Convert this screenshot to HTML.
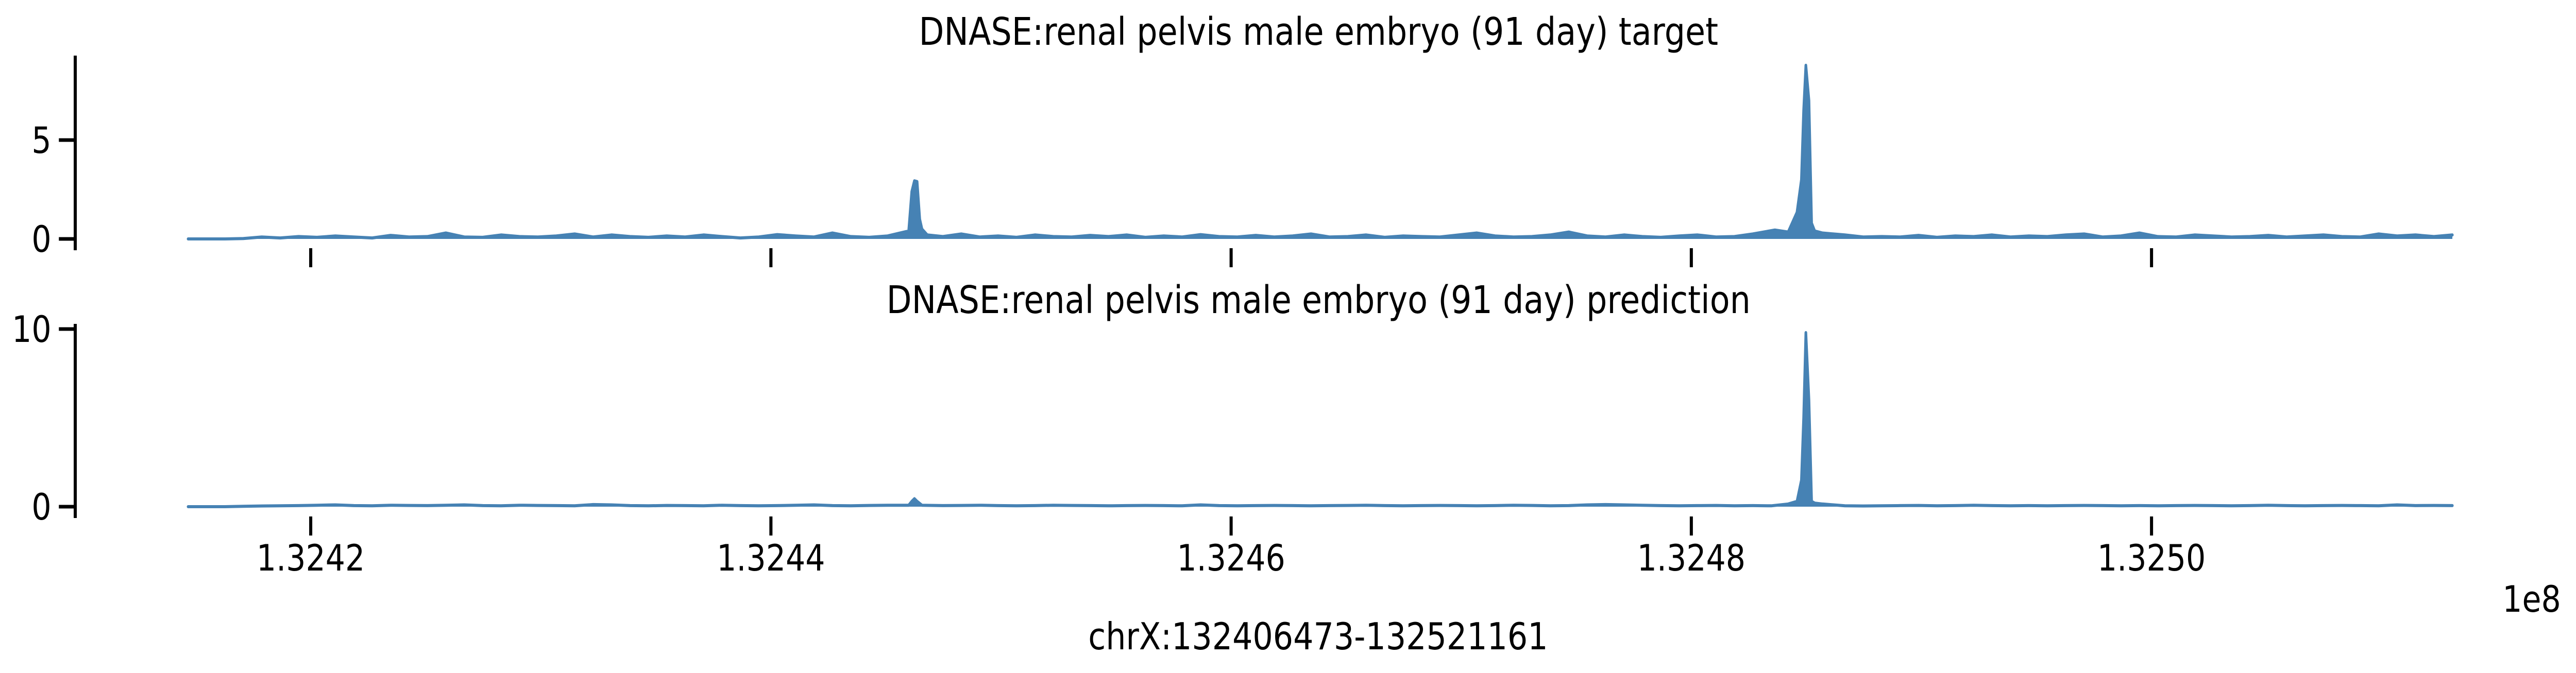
<!DOCTYPE html>
<html><head><meta charset="utf-8"><style>
html,body{margin:0;padding:0;background:#fff;width:100%;height:100%;overflow:hidden;}
svg{display:block;width:100vw;height:100vh;}
text{font-family:"DejaVu Sans","Liberation Sans",sans-serif;fill:#000;}
</style></head><body>
<svg id="fig" viewBox="0 0 5820 1307" preserveAspectRatio="none" xmlns="http://www.w3.org/2000/svg">
<g id="top"></g>
<g id="bot"></g>
<text x="2979" y="87" font-size="74" text-anchor="middle">DNASE:renal pelvis male embryo (91 day) target</text>
<text x="2979" y="608" font-size="74" text-anchor="middle">DNASE:renal pelvis male embryo (91 day) prediction</text>
<text x="2978" y="1261" font-size="72" text-anchor="middle">chrX:132406473-132521161</text>
<text x="5786" y="1188" font-size="70" text-anchor="end">1e8</text>
</svg>
<script>
// ---- data ----
const binStart = 132414672;
const binSize = 800;
const targetBaseline = [0,0,0,0.02,0.1,0.05,0.12,0.08,0.15,0.1,0.05,0.18,0.1,0.12,0.3,0.1,0.08,0.2,0.12,0.1,0.15,0.25,0.1,0.2,0.12,0.08,0.15,0.1,0.2,0.12,0.05,0.1,0.22,0.15,0.1,0.3,0.12,0.08,0.15,0.2,0.1,0.12,0.25,0.1,0.15,0.08,0.2,0.12,0.1,0.18,0.12,0.2,0.08,0.15,0.1,0.22,0.12,0.1,0.18,0.1,0.15,0.25,0.1,0.12,0.2,0.08,0.15,0.12,0.1,0.2,0.3,0.15,0.1,0.12,0.2,0.35,0.15,0.1,0.2,0.12,0.08,0.15,0.2,0.1,0.12,0.25,0.3,0.12,0.1,0.15,0.2,0.1,0.12,0.1,0.18,0.08,0.15,0.12,0.2,0.1,0.15,0.12,0.2,0.25,0.1,0.15,0.3,0.12,0.1,0.2,0.15,0.1,0.12,0.18,0.1,0.15,0.2,0.12,0.1,0.25,0.15,0.2,0.12,0.2];
const predBaseline = [0,0,0,0.02,0.04,0.05,0.06,0.08,0.1,0.06,0.05,0.08,0.07,0.06,0.08,0.1,0.06,0.05,0.08,0.07,0.06,0.05,0.12,0.1,0.06,0.05,0.07,0.06,0.05,0.08,0.06,0.05,0.06,0.08,0.1,0.06,0.05,0.07,0.08,0.06,0.05,0.06,0.07,0.08,0.06,0.05,0.06,0.08,0.07,0.06,0.05,0.06,0.07,0.06,0.05,0.1,0.06,0.05,0.06,0.07,0.06,0.05,0.06,0.07,0.08,0.06,0.05,0.06,0.07,0.06,0.05,0.06,0.08,0.07,0.05,0.06,0.1,0.12,0.1,0.08,0.06,0.05,0.06,0.07,0.05,0.06,0.05,0.04,0.05,0.06,0.05,0.04,0.05,0.06,0.07,0.05,0.06,0.08,0.06,0.05,0.06,0.05,0.06,0.07,0.06,0.05,0.06,0.05,0.06,0.07,0.06,0.05,0.06,0.08,0.06,0.05,0.06,0.07,0.06,0.05,0.1,0.06,0.07,0.06];
const targetPeakPos = [132445987,132446121,132446237,132446352,132446468,132446564,132446795,132483630,132484207,132484592,132484785,132484881,132484977,132485112,132485227,132485362,132485700];
const targetPeakVal = [0.4,2.4,2.94,2.9,1.0,0.5,0.2,0.45,0.35,1.35,3.0,6.5,8.78,7.0,0.8,0.4,0.3];
const predPeakPos = [132445987,132446121,132446237,132446352,132446564,132484207,132484592,132484785,132484881,132484977,132485112,132485227,132485362,132485700];
const predPeakVal = [0.08,0.3,0.45,0.3,0.08,0.15,0.3,1.5,5.0,9.8,6.0,0.3,0.2,0.15];
const xTicks = [132420000,132440000,132460000,132480000,132500000];
const xTickLabels = ["1.3242","1.3244","1.3246","1.3248","1.3250"];
const topYTicks = [0,5];
const botYTicks = [0,10];

// ---- scales ----
const X0 = 702, PXBP = 1039.75/20000;
function xs(p){ return X0 + (p-132420000)*PXBP; }
const panels = {
  top:{g:'top', y0:464, ppu:38.4, spineTop:108, spineBot:486, tickTop:482, tickBot:519},
  bot:{g:'bot', y0:984, ppu:34.5, spineTop:629, spineBot:1006, tickTop:1003, tickBot:1040}
};
const NS='http://www.w3.org/2000/svg';
function mk(tag, attrs, parent){ const e=document.createElementNS(NS,tag); for(const k in attrs) e.setAttribute(k,attrs[k]); parent.appendChild(e); return e; }

function mergeGroups(base, pPos, pVal){
  const pts=[];
  base.forEach((v,i)=>{ const p=binStart+i*binSize;
    const near = pPos.some(q=>Math.abs(q-p)<450);
    if(!near) pts.push([p,v]); });
  pPos.forEach((p,i)=>pts.push([p,pVal[i]]));
  pts.sort((a,b)=>a[0]-b[0]);
  return pts;
}

function drawPanel(P, base, pPos, pVal, yTicks, showLabels, name){
  const g=document.getElementById(P.g);
  const ys=v=>P.y0 - v*P.ppu;
  const pts=mergeGroups(base,pPos,pVal);
  let d='M'+xs(pts[0][0]).toFixed(1)+','+ys(0);
  pts.forEach(([p,v])=>{ d+=' L'+xs(p).toFixed(1)+','+ys(v).toFixed(1); });
  d+=' L'+xs(pts[pts.length-1][0]).toFixed(1)+','+ys(0)+' Z';
  const area=mk('path',{d:d,fill:'#4682b4',stroke:'none'},g);
  
  
  let l='';
  pts.forEach(([p,v],i)=>{ l+=(i?' L':'M')+xs(p).toFixed(1)+','+ys(v).toFixed(1); });
  const line=mk('path',{d:l,fill:'none',stroke:'#4682b4','stroke-width':6,'stroke-linejoin':'round','stroke-linecap':'round'},g);
  
  
  const sp=mk('line',{x1:170,x2:170,y1:P.spineTop,y2:P.spineBot,stroke:'#000','stroke-width':7},g);
  
  
  yTicks.forEach(t=>{
    const tk=mk('line',{x1:133,x2:170,y1:ys(t),y2:ys(t),stroke:'#000','stroke-width':7},g);
    
    
    const tl=mk('text',{x:116,y:ys(t)+25,'font-size':70,'text-anchor':'end'},g);
    tl.textContent=String(t);
    
    
  });
  xTicks.forEach((t,i)=>{
    const tk=mk('line',{x1:xs(t),x2:xs(t),y1:P.tickTop,y2:P.tickBot,stroke:'#000','stroke-width':7},g);
    
    
    if(showLabels){
      const tl=mk('text',{x:xs(t),y:1108,'font-size':70,'text-anchor':'middle'},g);
      tl.textContent=xTickLabels[i];
      
      
    }
  });
}
drawPanel(panels.top, targetBaseline, targetPeakPos, targetPeakVal, topYTicks, false, 'target-series');
drawPanel(panels.bot, predBaseline, predPeakPos, predPeakVal, botYTicks, true, 'prediction-series');
</script>
</body></html>
